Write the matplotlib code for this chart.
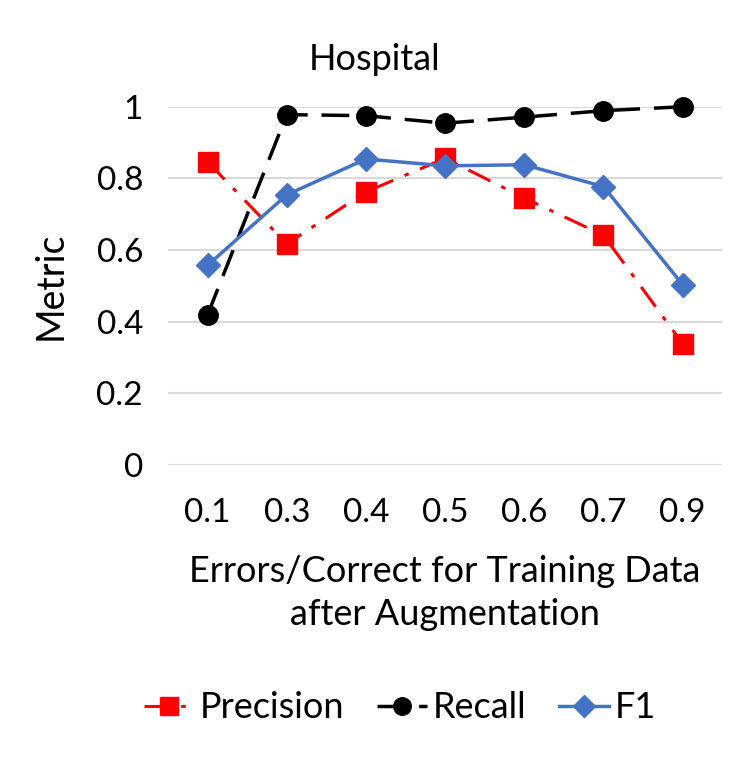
import matplotlib.pyplot as plt
import numpy as np

plt.rcParams['font.family'] = ['Lato', 'DejaVu Sans']

ratios = ['0.1', '0.3', '0.4', '0.5', '0.6', '0.7', '0.9']
precision = [0.846, 0.617, 0.762, 0.856, 0.745, 0.641, 0.338]
recall = [0.419, 0.978, 0.975, 0.954, 0.971, 0.989, 1.0]
f1 = [0.557, 0.754, 0.854, 0.835, 0.838, 0.777, 0.503]

fig = plt.figure(figsize=(7.5, 7.57), dpi=100)
ax = fig.add_axes([0.224, 0.386, 0.739, 0.473])

x = np.arange(len(ratios))
ax.plot(x, precision, color='#FF0000', lw=2.2, dashes=(8, 4, 1.5, 4),
        marker='s', markersize=14, label='Precision', zorder=3)
ax.plot(x, recall, color='black', lw=2.5, dashes=(8, 4),
        marker='o', markersize=14, label='Recall', zorder=4)
ax.plot(x, f1, color='#4472C4', lw=2.5, marker='D', markersize=12,
        label='F1', zorder=5)

ax.set_xlim(-0.5, len(ratios) - 0.5)
ax.set_ylim(0, 1)
ax.set_yticks([0, 0.2, 0.4, 0.6, 0.8, 1.0])
ax.set_yticklabels(['0', '0.2', '0.4', '0.6', '0.8', '1'])
ax.set_xticks(x)
ax.set_xticklabels(ratios)
ax.grid(axis='y', color='#D9D9D9', lw=1.5)
ax.set_axisbelow(True)
for s in ax.spines.values():
    s.set_visible(False)
ax.tick_params(length=0, labelsize=24, pad=24)
ax.tick_params(axis='y', pad=18)
for ln in ax.lines:
    ln.set_clip_on(False)

fig.text(0.5, 0.921, 'Hospital', fontsize=26, ha='center', va='center')
ax.set_ylabel('Metric', fontsize=27, labelpad=20)
ax.set_xlabel('Errors/Correct for Training Data\nafter Augmentation', fontsize=26,
              labelpad=19, linespacing=1.4)

ax.legend(loc='center', bbox_to_anchor=(400 / 750, 1 - 708 / 757), bbox_transform=fig.transFigure,
          ncol=3, frameon=False, fontsize=26, handlelength=1.4, handletextpad=0.15,
          columnspacing=0.9, markerscale=0.9)

fig.savefig('out.png', dpi=100)
